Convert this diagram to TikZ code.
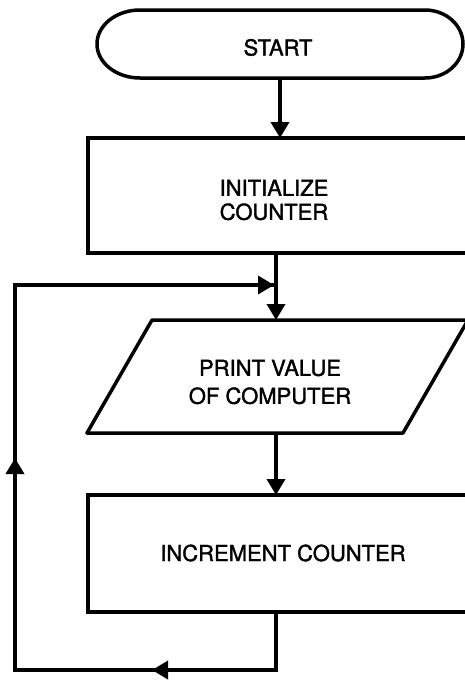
\documentclass[tikz,border=0pt]{standalone}
\usepackage{fontspec}
\setmainfont{TeX Gyre Heros}
\newfontfamily\lblfont[FakeBold=1.5]{TeX Gyre Heros}
\usetikzlibrary{arrows.meta}
\begin{document}
\begin{tikzpicture}[x=1pt,y=1pt,
  outline/.style={draw, line width=3.5pt, line join=round},
  conn/.style={line width=3.5pt, -{Triangle[width=18pt,length=16pt]}},
  wire/.style={line width=3.5pt, line join=miter},
  shapebox/.style={draw, line width=3.5pt, rectangle, inner sep=0pt},
  lbl/.style={font=\lblfont\fontsize{22}{26}\selectfont, align=center, inner sep=0pt}]
\useasboundingbox (0,0) rectangle (465,-680);
\fill[white] (0,0) rectangle (465,-680);
\clip (0,0) rectangle (465,-680);

% terminal START
\draw[outline] (140,-10) -- (425,-10)
  arc[start angle=90, end angle=-90, x radius=38, y radius=34]
  -- (140,-78)
  arc[start angle=270, end angle=90, x radius=43, y radius=34] -- cycle;
\node[lbl] (start) at (278,-47.5) {START};

% initialize box
\node[shapebox, minimum width=402pt, minimum height=115pt] (init) at (289,-195.5) {};
\node[lbl, font=\lblfont\fontsize{22}{24}\selectfont] (initlbl) at (274,-200) {INITIALIZE\\COUNTER};

% print parallelogram
\draw[outline] (152,-320) -- (468,-320) -- (403,-433) -- (87,-433) -- cycle;
\node[lbl, font=\lblfont\fontsize{22}{28}\selectfont] (printlbl) at (270,-382) {PRINT VALUE\\OF COMPUTER};

% increment box
\node[shapebox, minimum width=402pt, minimum height=117pt] (inc) at (289,-553.5) {};
\node[lbl] (inclbl) at (283,-553) {INCREMENT COUNTER};

% connector points
\coordinate (startbot) at (280,-78);
\coordinate (inittop) at (280,-138);
\coordinate (initbot) at (276,-253);
\coordinate (join) at (276,-285);
\coordinate (joinin) at (274,-285);
\coordinate (printtop) at (276,-320);
\coordinate (printbot) at (276,-433);
\coordinate (inctop) at (276,-495);
\coordinate (incbot) at (276,-612);
\coordinate (corner1) at (276,-670);
\coordinate (arrowleft) at (152,-670);
\coordinate (corner2) at (15,-670);
\coordinate (arrowup) at (15,-458);
\coordinate (corner3) at (15,-285);

% connectors
\draw[conn] (startbot) -- (inittop);
\draw[conn] (initbot) -- (printtop);
\draw[conn] (printbot) -- (inctop);
\draw[wire] (incbot) -- (corner1) -- (corner2) -- (corner3) -- (join);
\draw[conn] (corner1) -- (arrowleft);
\draw[conn] (corner2) -- (arrowup);
\draw[conn] (corner3) -- (joinin);
\end{tikzpicture}
\end{document}
